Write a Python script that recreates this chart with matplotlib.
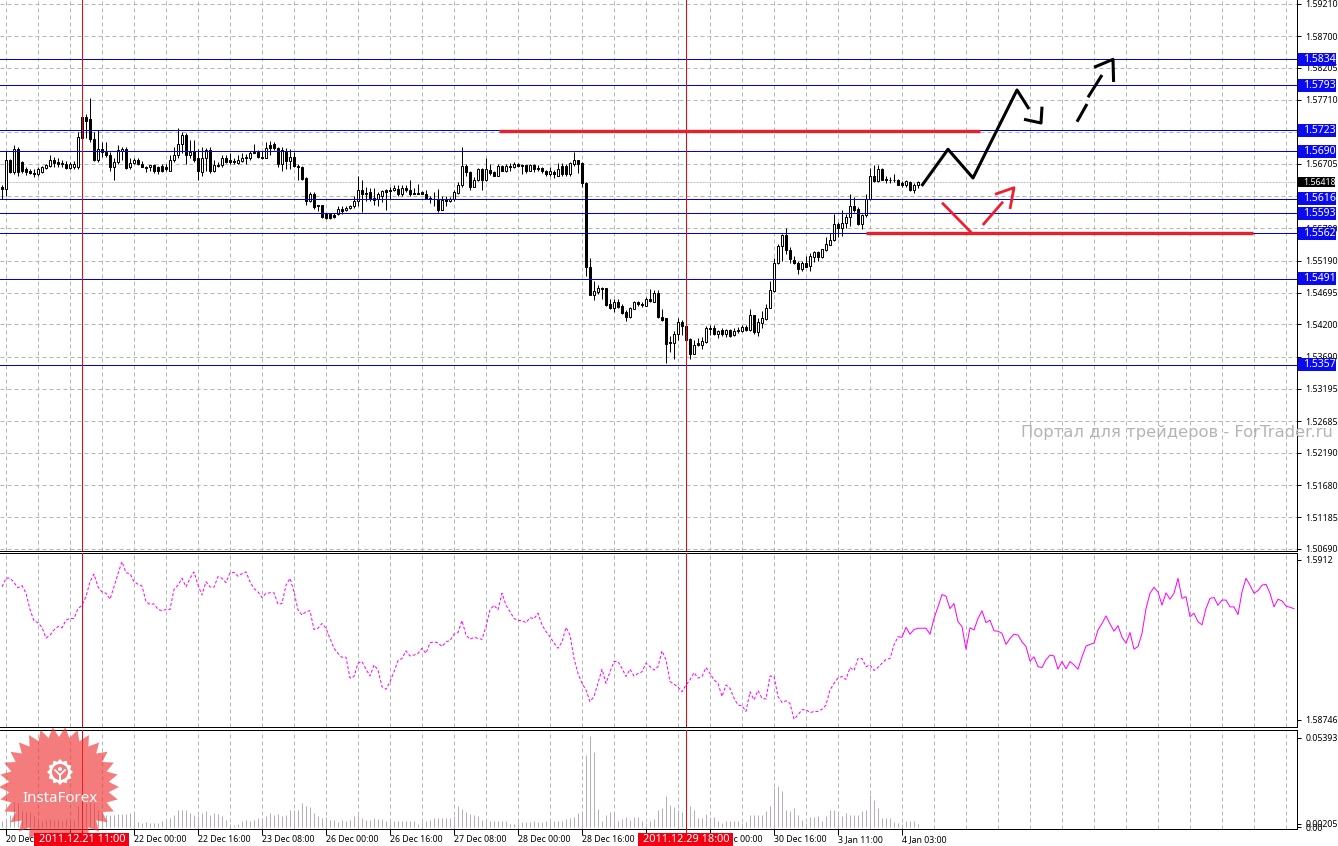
import numpy as np
import matplotlib
matplotlib.use("Agg")
import matplotlib.pyplot as plt
from matplotlib.patches import Polygon, Circle, Rectangle

W, H = 1338, 846
plt.rcParams['font.family'] = ['Noto Sans', 'DejaVu Sans']

# candles, one hour each
opens = [1.5634,1.5632,1.5676,1.5658,1.5693,1.5674,1.5662,1.5659,1.5657,1.5654,
1.5658,1.5664,1.5667,1.5676,1.5673,1.5672,1.5671,1.5664,1.5666,1.5666,
1.5743,1.5743,1.5740,1.5709,1.5676,1.5694,1.5689,1.5685,1.5666,1.5673,
1.5690,1.5694,1.5665,1.5672,1.5676,1.5671,1.5666,1.5665,1.5668,1.5665,
1.5667,1.5665,1.5660,1.5676,1.5685,1.5702,1.5715,1.5684,1.5691,1.5679,
1.5658,1.5679,1.5692,1.5659,1.5669,1.5668,1.5679,1.5676,1.5675,1.5672,
1.5675,1.5682,1.5680,1.5689,1.5689,1.5682,1.5679,1.5700,1.5701,1.5696,
1.5671,1.5689,1.5675,1.5682,1.5667,1.5665,1.5649,1.5612,1.5623,1.5606,
1.5606,1.5592,1.5592,1.5591,1.5592,1.5600,1.5599,1.5601,1.5604,1.5613,
1.5629,1.5625,1.5626,1.5617,1.5615,1.5621,1.5629,1.5630,1.5630,1.5632,
1.5623,1.5633,1.5630,1.5625,1.5625,1.5626,1.5624,1.5617,1.5616,1.5616,
1.5599,1.5615,1.5612,1.5615,1.5625,1.5637,1.5667,1.5658,1.5635,1.5645,
1.5663,1.5645,1.5661,1.5658,1.5652,1.5667,1.5660,1.5667,1.5665,1.5671,
1.5668,1.5668,1.5660,1.5668,1.5664,1.5664,1.5660,1.5654,1.5658,1.5652,
1.5667,1.5667,1.5654,1.5670,1.5676,1.5672,1.5641,1.5510,1.5466,1.5471,
1.5477,1.5476,1.5452,1.5446,1.5455,1.5448,1.5439,1.5431,1.5444,1.5454,
1.5452,1.5448,1.5459,1.5455,1.5468,1.5431,1.5429,1.5392,1.5391,1.5404,
1.5423,1.5417,1.5397,1.5374,1.5390,1.5388,1.5392,1.5414,1.5414,1.5404,
1.5411,1.5405,1.5411,1.5403,1.5411,1.5410,1.5416,1.5411,1.5435,1.5408,
1.5422,1.5428,1.5446,1.5472,1.5515,1.5542,1.5560,1.5536,1.5521,1.5515,
1.5506,1.5516,1.5511,1.5525,1.5533,1.5525,1.5536,1.5544,1.5551,1.5577,
1.5570,1.5578,1.5587,1.5605,1.5600,1.5576,1.5590,1.5616,1.5652,1.5643,
1.5663,1.5647,1.5646,1.5646,1.5645,1.5641,1.5638,1.5642,1.5629,1.5637]
closes = [1.5632,1.5676,1.5658,1.5693,1.5658,1.5660,1.5658,1.5656,1.5655,1.5663,
1.5665,1.5668,1.5676,1.5672,1.5671,1.5670,1.5664,1.5670,1.5670,1.5712,
1.5711,1.5738,1.5709,1.5676,1.5694,1.5689,1.5684,1.5666,1.5673,1.5692,
1.5694,1.5664,1.5672,1.5676,1.5671,1.5666,1.5664,1.5668,1.5659,1.5660,
1.5660,1.5662,1.5677,1.5685,1.5702,1.5715,1.5684,1.5689,1.5677,1.5659,
1.5679,1.5692,1.5659,1.5668,1.5667,1.5679,1.5674,1.5674,1.5673,1.5676,
1.5680,1.5679,1.5688,1.5688,1.5681,1.5680,1.5696,1.5696,1.5696,1.5670,
1.5692,1.5675,1.5682,1.5667,1.5665,1.5647,1.5613,1.5623,1.5603,1.5604,
1.5587,1.5586,1.5586,1.5588,1.5600,1.5597,1.5602,1.5605,1.5613,1.5629,
1.5624,1.5623,1.5616,1.5614,1.5623,1.5628,1.5627,1.5628,1.5633,1.5623,
1.5633,1.5629,1.5623,1.5624,1.5624,1.5624,1.5616,1.5616,1.5615,1.5599,
1.5614,1.5612,1.5616,1.5626,1.5638,1.5667,1.5658,1.5635,1.5646,1.5663,
1.5645,1.5662,1.5657,1.5652,1.5667,1.5660,1.5667,1.5665,1.5671,1.5667,
1.5667,1.5659,1.5668,1.5663,1.5663,1.5659,1.5654,1.5659,1.5655,1.5663,
1.5655,1.5654,1.5672,1.5676,1.5671,1.5640,1.5509,1.5466,1.5472,1.5477,
1.5475,1.5450,1.5446,1.5455,1.5447,1.5437,1.5431,1.5446,1.5455,1.5451,
1.5450,1.5460,1.5456,1.5468,1.5431,1.5426,1.5389,1.5390,1.5404,1.5423,
1.5417,1.5395,1.5374,1.5388,1.5388,1.5394,1.5414,1.5413,1.5404,1.5410,
1.5405,1.5411,1.5402,1.5409,1.5409,1.5416,1.5411,1.5435,1.5408,1.5424,
1.5429,1.5446,1.5473,1.5515,1.5542,1.5560,1.5536,1.5522,1.5515,1.5506,
1.5516,1.5510,1.5526,1.5533,1.5525,1.5537,1.5545,1.5551,1.5577,1.5570,
1.5578,1.5588,1.5605,1.5599,1.5576,1.5591,1.5616,1.5652,1.5643,1.5663,
1.5646,1.5646,1.5645,1.5645,1.5638,1.5638,1.5643,1.5629,1.5638,1.5642]
highs = [1.5638,1.5691,1.5678,1.5700,1.5697,1.5675,1.5665,1.5663,1.5662,1.5665,
1.5667,1.5671,1.5684,1.5682,1.5680,1.5677,1.5675,1.5674,1.5675,1.5721,
1.5744,1.5748,1.5773,1.5721,1.5723,1.5705,1.5705,1.5689,1.5679,1.5700,
1.5697,1.5697,1.5679,1.5679,1.5679,1.5675,1.5667,1.5668,1.5671,1.5667,
1.5670,1.5670,1.5684,1.5697,1.5727,1.5721,1.5718,1.5708,1.5708,1.5694,
1.5697,1.5696,1.5697,1.5676,1.5674,1.5684,1.5684,1.5687,1.5679,1.5684,
1.5687,1.5686,1.5691,1.5702,1.5692,1.5691,1.5705,1.5706,1.5705,1.5697,
1.5697,1.5696,1.5693,1.5689,1.5670,1.5667,1.5650,1.5626,1.5626,1.5607,
1.5607,1.5593,1.5593,1.5593,1.5604,1.5605,1.5604,1.5607,1.5621,1.5652,
1.5645,1.5634,1.5633,1.5633,1.5626,1.5630,1.5631,1.5634,1.5637,1.5637,
1.5637,1.5637,1.5645,1.5633,1.5639,1.5628,1.5629,1.5621,1.5626,1.5631,
1.5621,1.5621,1.5619,1.5629,1.5642,1.5697,1.5671,1.5659,1.5650,1.5664,
1.5664,1.5679,1.5671,1.5660,1.5671,1.5668,1.5671,1.5672,1.5673,1.5672,
1.5670,1.5669,1.5670,1.5671,1.5668,1.5665,1.5661,1.5665,1.5661,1.5672,
1.5672,1.5671,1.5673,1.5689,1.5677,1.5673,1.5642,1.5524,1.5488,1.5481,
1.5478,1.5476,1.5459,1.5460,1.5460,1.5451,1.5442,1.5447,1.5456,1.5456,
1.5454,1.5462,1.5475,1.5473,1.5473,1.5444,1.5429,1.5401,1.5409,1.5429,
1.5427,1.5420,1.5399,1.5395,1.5399,1.5400,1.5417,1.5418,1.5418,1.5411,
1.5414,1.5413,1.5413,1.5414,1.5415,1.5418,1.5418,1.5443,1.5435,1.5430,
1.5441,1.5452,1.5487,1.5524,1.5545,1.5561,1.5570,1.5540,1.5527,1.5519,
1.5518,1.5527,1.5532,1.5535,1.5534,1.5538,1.5557,1.5562,1.5592,1.5579,
1.5598,1.5592,1.5623,1.5619,1.5603,1.5592,1.5623,1.5664,1.5668,1.5669,
1.5664,1.5652,1.5650,1.5654,1.5647,1.5643,1.5646,1.5643,1.5640,1.5643]
lows = [1.5616,1.5620,1.5657,1.5655,1.5651,1.5656,1.5653,1.5654,1.5650,1.5651,
1.5656,1.5662,1.5665,1.5666,1.5666,1.5665,1.5662,1.5662,1.5663,1.5663,
1.5711,1.5711,1.5705,1.5675,1.5674,1.5681,1.5681,1.5660,1.5646,1.5671,
1.5676,1.5663,1.5663,1.5670,1.5668,1.5665,1.5658,1.5660,1.5656,1.5655,
1.5658,1.5660,1.5660,1.5674,1.5679,1.5687,1.5670,1.5679,1.5674,1.5646,
1.5651,1.5660,1.5656,1.5658,1.5665,1.5666,1.5672,1.5670,1.5670,1.5670,
1.5674,1.5670,1.5677,1.5687,1.5679,1.5678,1.5679,1.5684,1.5692,1.5666,
1.5660,1.5663,1.5663,1.5665,1.5646,1.5646,1.5606,1.5611,1.5600,1.5597,
1.5586,1.5585,1.5585,1.5586,1.5591,1.5592,1.5597,1.5600,1.5602,1.5604,
1.5595,1.5613,1.5613,1.5607,1.5604,1.5611,1.5599,1.5616,1.5628,1.5621,
1.5621,1.5626,1.5621,1.5623,1.5623,1.5623,1.5615,1.5609,1.5604,1.5595,
1.5599,1.5604,1.5611,1.5613,1.5623,1.5635,1.5652,1.5630,1.5634,1.5644,
1.5630,1.5644,1.5653,1.5651,1.5651,1.5659,1.5658,1.5659,1.5664,1.5665,
1.5654,1.5656,1.5659,1.5658,1.5659,1.5656,1.5651,1.5652,1.5648,1.5651,
1.5652,1.5652,1.5652,1.5667,1.5656,1.5634,1.5495,1.5466,1.5458,1.5467,
1.5459,1.5448,1.5443,1.5439,1.5446,1.5436,1.5425,1.5429,1.5443,1.5448,
1.5447,1.5448,1.5454,1.5454,1.5430,1.5425,1.5360,1.5377,1.5366,1.5395,
1.5403,1.5388,1.5366,1.5373,1.5386,1.5382,1.5391,1.5403,1.5403,1.5399,
1.5402,1.5400,1.5400,1.5402,1.5407,1.5408,1.5409,1.5409,1.5405,1.5402,
1.5414,1.5426,1.5445,1.5471,1.5514,1.5519,1.5529,1.5516,1.5514,1.5499,
1.5503,1.5509,1.5503,1.5517,1.5519,1.5523,1.5535,1.5543,1.5550,1.5557,
1.5558,1.5570,1.5574,1.5596,1.5575,1.5568,1.5588,1.5614,1.5642,1.5642,
1.5645,1.5640,1.5640,1.5642,1.5637,1.5634,1.5635,1.5628,1.5625,1.5633]
# second pair in the middle panel, runs past the last candle
overlay = [1.59057,1.59077,1.59078,1.59067,1.59055,1.59060,1.59042,1.59004,1.58977,1.58973,
1.58962,1.58937,1.58944,1.58956,1.58964,1.58961,1.58979,1.58983,1.58983,1.59006,
1.59014,1.59034,1.59069,1.59087,1.59057,1.59045,1.59042,1.59028,1.59057,1.59088,
1.59116,1.59090,1.59088,1.59069,1.59063,1.59059,1.59022,1.59016,1.59017,1.59004,
1.59001,1.59004,1.59004,1.59051,1.59061,1.59077,1.59057,1.59077,1.59092,1.59061,
1.59038,1.59069,1.59057,1.59056,1.59081,1.59077,1.59067,1.59090,1.59091,1.59082,
1.59088,1.59092,1.59069,1.59053,1.59045,1.59032,1.59042,1.59043,1.59043,1.59016,
1.59018,1.59061,1.59077,1.59045,1.59003,1.58991,1.58999,1.59001,1.58957,1.58960,
1.58971,1.58960,1.58936,1.58913,1.58901,1.58892,1.58892,1.58843,1.58847,1.58878,
1.58882,1.58864,1.58848,1.58874,1.58862,1.58823,1.58817,1.58835,1.58858,1.58884,
1.58889,1.58907,1.58895,1.58897,1.58901,1.58913,1.58901,1.58926,1.58928,1.58926,
1.58917,1.58928,
1.58931,1.58946,1.58950,1.58978,1.58944,1.58934,1.58939,1.58936,1.58934,1.58964,
1.59003,1.59014,1.59003,1.59042,1.59014,1.58999,1.58983,1.58978,1.58978,1.58973,
1.58985,1.58982,1.58995,1.58968,1.58952,1.58940,1.58925,1.58913,1.58928,1.58962,
1.58944,1.58889,1.58854,1.58831,1.58815,1.58788,1.58800,1.58831,1.58864,1.58831,
1.58858,1.58882,1.58882,1.58866,1.58847,1.58864,1.58848,1.58854,1.58858,1.58878,
1.58870,1.58862,1.58870,1.58907,1.58886,1.58835,1.58829,1.58822,1.58811,1.58827,
1.58839,1.58856,1.58843,1.58847,1.58868,1.58854,1.58839,1.58831,1.58800,1.58827,
1.58819,1.58796,1.58780,1.58778,1.58765,1.58811,1.58792,1.58814,1.58796,1.58794,
1.58848,1.58847,1.58800,1.58786,1.58790,1.58784,1.58747,1.58757,1.58769,1.58769,
1.58762,1.58765,1.58765,1.58770,1.58780,1.58815,1.58831,1.58843,1.58847,1.58840,
1.58868,1.58861,1.58889,1.58889,1.58870,1.58874,1.58861,1.58868,1.58878,1.58887,
1.58889,1.58921,1.58940,
1.58939,1.58962,1.58946,1.58957,1.58960,1.58960,1.58960,1.58946,1.58983,1.59010,
1.59039,1.59035,1.59006,1.59018,1.58975,1.58964,1.58911,1.58961,1.58956,1.58983,
1.59001,1.58973,1.58979,1.58954,1.58953,1.58948,1.58922,1.58936,1.58946,1.58944,
1.58928,1.58917,1.58883,1.58893,1.58870,1.58868,1.58886,1.58897,1.58895,1.58864,
1.58882,1.58865,1.58882,1.58874,1.58864,1.58893,1.58918,1.58922,1.58925,1.58956,
1.58971,1.58989,1.58970,1.58953,1.58966,1.58939,1.58925,1.58950,1.58911,1.58917,
1.58948,1.59006,1.59042,1.59056,1.59045,1.59014,1.59043,1.59028,1.59042,1.59077,
1.59030,1.59034,1.58987,1.58995,1.58975,1.58968,1.59006,1.59030,1.59032,1.59014,
1.59026,1.59026,1.59010,1.59010,1.58992,1.59045,1.59077,1.59061,1.59042,1.59048,
1.59061,1.59063,1.59042,1.59010,1.59028,1.59024,1.59012,1.59009,1.59006]
volumes = [.0036,.0036,.0072,.0150,.0144,.0096,.0090,.0090,.0066,.0042,
.0036,.0042,.0048,.0042,.0042,.0036,.0048,.0042,.0042,.0126,
.0144,.0144,.0150,.0144,.0102,.0084,.0072,.0072,.0072,.0078,
.0078,.0078,.0084,.0084,.0030,.0024,.0030,.0024,.0024,.0024,
.0036,.0042,.0054,.0072,.0102,.0102,.0102,.0084,.0072,.0066,
.0084,.0096,.0072,.0084,.0078,.0066,.0042,.0018,.0012,.0018,
.0036,.0042,.0036,.0042,.0054,.0054,.0066,.0084,.0072,.0078,
.0066,.0072,.0102,.0102,.0102,.0144,.0126,.0120,.0084,.0066,
.0054,.0060,.0042,.0042,.0030,.0042,.0036,.0042,.0066,.0072,
.0054,.0042,.0042,.0054,.0048,.0048,.0036,.0036,.0036,.0036,
.0036,.0036,.0036,.0036,.0018,.0036,.0036,.0042,.0054,.0054,
.0054,.0054,.0054,.0066,.0126,.0108,.0090,.0078,.0072,.0066,
.0042,.0042,.0036,.0036,.0036,.0036,.0036,.0018,.0018,.0030,
.0030,.0030,.0030,.0036,.0030,.0030,.0036,.0036,.0036,.0036,
.0036,.0048,.0054,.0060,.0084,.0084,.0432,.0546,.0450,.0108,
.0036,.0072,.0090,.0084,.0036,.0048,.0060,.0042,.0060,.0060,
.0036,.0024,.0036,.0048,.0102,.0114,.0186,.0132,.0120,.0102,
.0090,.0090,.0126,.0102,.0054,.0054,.0078,.0060,.0060,.0036,
.0024,.0036,.0036,.0036,.0036,.0024,.0030,.0072,.0072,.0072,
.0072,.0096,.0126,.0234,.0246,.0216,.0102,.0096,.0114,.0072,
.0042,.0024,.0060,.0060,.0066,.0036,.0066,.0102,.0102,.0072,
.0066,.0084,.0072,.0072,.0072,.0096,.0102,.0192,.0162,.0114,
.0054,.0054,.0054,.0030,.0024,.0018,.0036,.0036,.0036,.0018]

# level lines
levels = [1.5834, 1.5793, 1.5723, 1.5690, 1.5616, 1.5593, 1.5562, 1.5491, 1.5357]
last_price = 1.56418
main_ticks = [1.59210,1.58700,1.58205,1.57710,1.57205,1.56705,1.56200,1.55700,1.55190,
              1.54695,1.54200,1.53690,1.53195,1.52685,1.52190,1.51680,1.51185,1.50690]
overlay_ticks = [1.5912, 1.58746]
overlay_labels = ['1.5912', '1.58746']
volume_ticks = [0.05393, 0.00205, 0.0]
volume_labels = ['0.05393', '0.00205', '0.00']
red_bars = [20, 171]
red_labels = ['2011.12.21 11:00', '2011.12.29 18:00']
date_bars = [1,17,33,49,65,81,97,113,129,145,161,177,193,209,225]
# the labels at bars 17 and 161 sit fully under the red date boxes
date_labels = ['20 Dec 16:00','','22 Dec 00:00','22 Dec 16:00','23 Dec 08:00',
               '26 Dec 00:00','26 Dec 16:00','27 Dec 08:00','28 Dec 00:00','28 Dec 16:00',
               '','30 Dec 00:00','30 Dec 16:00','3 Jan 11:00','4 Jan 03:00']

# hand drawn forecast strokes (bar, price)
black_strokes = [([229.9,236.5,242.75,253.75,256.75],[1.5636,1.56933,1.56485,1.5786,1.57563]),
                 ([255.5,259.75,260],[1.57402,1.57344,1.57599]),
                 ([268.75,271.25],[1.57364,1.57641]),
                 ([271.5,275],[1.57746,1.58094]),
                 ([273,277.75,277.9],[1.58214,1.58339,1.57985])]
red_strokes = [([235,242.75],[1.56099,1.55605]),
               ([245.2,250.25],[1.5575,1.56114]),
               ([248.25,253,252],[1.5623,1.56333,1.56])]
red_bands = [([124.25,244.5],[1.5722,1.5722]),
             ([216,312.75],[1.5563,1.5563])]

RED = '#ff0000'
GRID = '#b0bbb0'
px = 0.72  # one pixel in points at dpi 100


def panel(top, bottom, ylim):
    ax = fig.add_axes([0, 1 - bottom / H, 1297 / W, (bottom - top) / H])
    ax.set_xlim(-0.5, 323.75)
    ax.set_ylim(*ylim)
    for s in ['left', 'top']:
        ax.spines[s].set_visible(False)
    for s in ['bottom', 'right']:
        ax.spines[s].set_linewidth(px)
    ax.yaxis.tick_right()
    ax.tick_params(axis='y', length=3, width=px, pad=3, labelsize=6.3)
    ax.tick_params(axis='x', length=0, labelbottom=False)
    ax.set_xticks(np.arange(1, 324, 8))
    ax.grid(axis='x', color=GRID, lw=px, ls=(0, (4, 3)))
    ax.set_axisbelow(True)
    for b in red_bars:
        ax.axvline(b, color=RED, lw=px, zorder=6)
    return ax


fig = plt.figure(figsize=(W / 100, H / 100), dpi=100, facecolor='white')
main = panel(0, 550.5, (1.50664, 1.59266))
mid = panel(552.5, 727, (1.587285, 1.591375))
vol = panel(729.5, 828.7, (-0.00084, 0.0588))
for ax in (mid, vol):
    ax.spines['top'].set_visible(True)
    ax.spines['top'].set_linewidth(px)

# main panel
bars = np.arange(len(opens))
o, h, l, c = map(np.array, (opens, highs, lows, closes))
main.set_yticks(main_ticks)
# 1.57205 and 1.56200 sit fully under the blue price boxes
main.set_yticklabels(['' if t in (1.57205, 1.56200) else '%.5f' % t for t in main_ticks])
main.grid(axis='y', color=GRID, lw=px, ls=(0, (4, 3)))
main.axhline(last_price, color='#c4bcc4', lw=px, ls=(0, (2, 1)), zorder=1)
main.vlines(bars, l, h, color='black', lw=px, zorder=3)
up = c >= o
main.bar(bars[up], (c - o)[up], bottom=o[up], width=0.5, facecolor='white',
         edgecolor='black', lw=px, zorder=4)
main.bar(bars[~up], (o - c)[~up], bottom=c[~up], width=0.5, facecolor='black',
         edgecolor='black', lw=px, zorder=4)
for level in levels:
    main.axhline(level, color='#0000e0', lw=px, zorder=5, antialiased=False)

for xs, ys in red_bands:
    main.plot(xs, ys, color='#e8202c', lw=2.4, solid_capstyle='butt', zorder=7)
for xs, ys in black_strokes:
    main.plot(xs, ys, color='black', lw=2.2, solid_capstyle='butt', zorder=7)
for xs, ys in red_strokes:
    main.plot(xs, ys, color='#ee2030', lw=2.0, solid_capstyle='butt', zorder=7)

# price boxes on the right scale
trans = main.get_yaxis_transform()
for level in levels:
    main.add_patch(Rectangle((1298 / 1297, level - 0.00102), 38 / 1297, 0.00204, transform=trans,
                             facecolor='#0a0af0', edgecolor='none', clip_on=False, zorder=9))
    main.text(1.0 + 6 / 1297, level, '%.4f' % level, transform=trans, color='white',
              fontsize=7.5, va='center', ha='left', zorder=10, clip_on=False)
main.add_patch(Rectangle((1298 / 1297, last_price - 0.00075), 37 / 1297, 0.0015, transform=trans,
                         facecolor='black', edgecolor='none', clip_on=False, zorder=9))
main.text(1.0 + 6 / 1297, last_price, '%.5f' % last_price, transform=trans, color='white',
          fontsize=6.3, va='center', ha='left', zorder=10, clip_on=False, weight='bold')

# second pair, dotted up to the last candle
split = 225
mid.plot(np.arange(split), overlay[:split], color='#ff00ff', lw=px, ls=(0, (3, 2)))
mid.plot(np.arange(split - 1, len(overlay)), overlay[split - 1:], color='#ff00ff', lw=px)
mid.set_yticks(overlay_ticks)
mid.set_yticklabels(overlay_labels)

# volume
vol.vlines(bars, 0, volumes, color='#b8aeb8', lw=px)
vol.set_yticks(volume_ticks)
vol.set_yticklabels(volume_labels)
vol.xaxis.remove_overlapping_locs = False
vol.set_xticks(date_bars, minor=True)
vol.set_xticklabels(date_labels, minor=True, ha='left', fontsize=6.3)
vol.tick_params(axis='x', which='minor', length=4, width=px, pad=0.5, labelbottom=True)

# overlay in pixels: watermark, broker logo, red date boxes
top = fig.add_axes([0, 0, 1, 1], zorder=20)
top.set_xlim(0, W)
top.set_ylim(H, 0)
top.axis('off')
top.text(1333, 433, 'Портал для трейдеров - ForTrader.ru', color='#b4b4b4', fontsize=11.8,
         family='DejaVu Sans', ha='right', va='center')
ang = np.linspace(0, 2 * np.pi, 60, endpoint=False)
rad = np.where(np.arange(60) % 2 == 0, 60, 50)
top.add_patch(Polygon(np.c_[59 + rad * np.cos(ang), 787 + rad * np.sin(ang)],
                      facecolor='#f02c2c', alpha=0.62, edgecolor='none', clip_on=True))
# gear
g_ang = np.linspace(0, 2 * np.pi, 24, endpoint=False)
g_rad = np.where(np.arange(24) % 2 == 0, 13, 10.5)
top.add_patch(Polygon(np.c_[60 + g_rad * np.cos(g_ang), 772 + g_rad * np.sin(g_ang)],
                      facecolor='white', edgecolor='none'))
top.add_patch(Circle((60, 772), 8, facecolor='#f47878', edgecolor='none'))
top.add_patch(Circle((60, 769), 2, facecolor='white', edgecolor='none'))
top.plot([55, 60, 65], [770, 775, 770], color='white', lw=1.3)
top.add_patch(Rectangle((58.8, 774), 2.4, 10, facecolor='white', edgecolor='none'))
top.text(60, 798, 'InstaForex', color='white', fontsize=10.8, ha='center', va='center')

for b, lab in zip(red_bars, red_labels):
    x = 2 + 4 * b
    top.plot([x, x], [828.7, 833], color=RED, lw=px)
    top.add_patch(Rectangle((x - 48, 833), 95, 13, facecolor='#f00010', edgecolor='none'))
    top.text(x, 839.5, lab, color='white', fontsize=7.9, ha='center', va='center')

fig.savefig('out.png', dpi=100)
